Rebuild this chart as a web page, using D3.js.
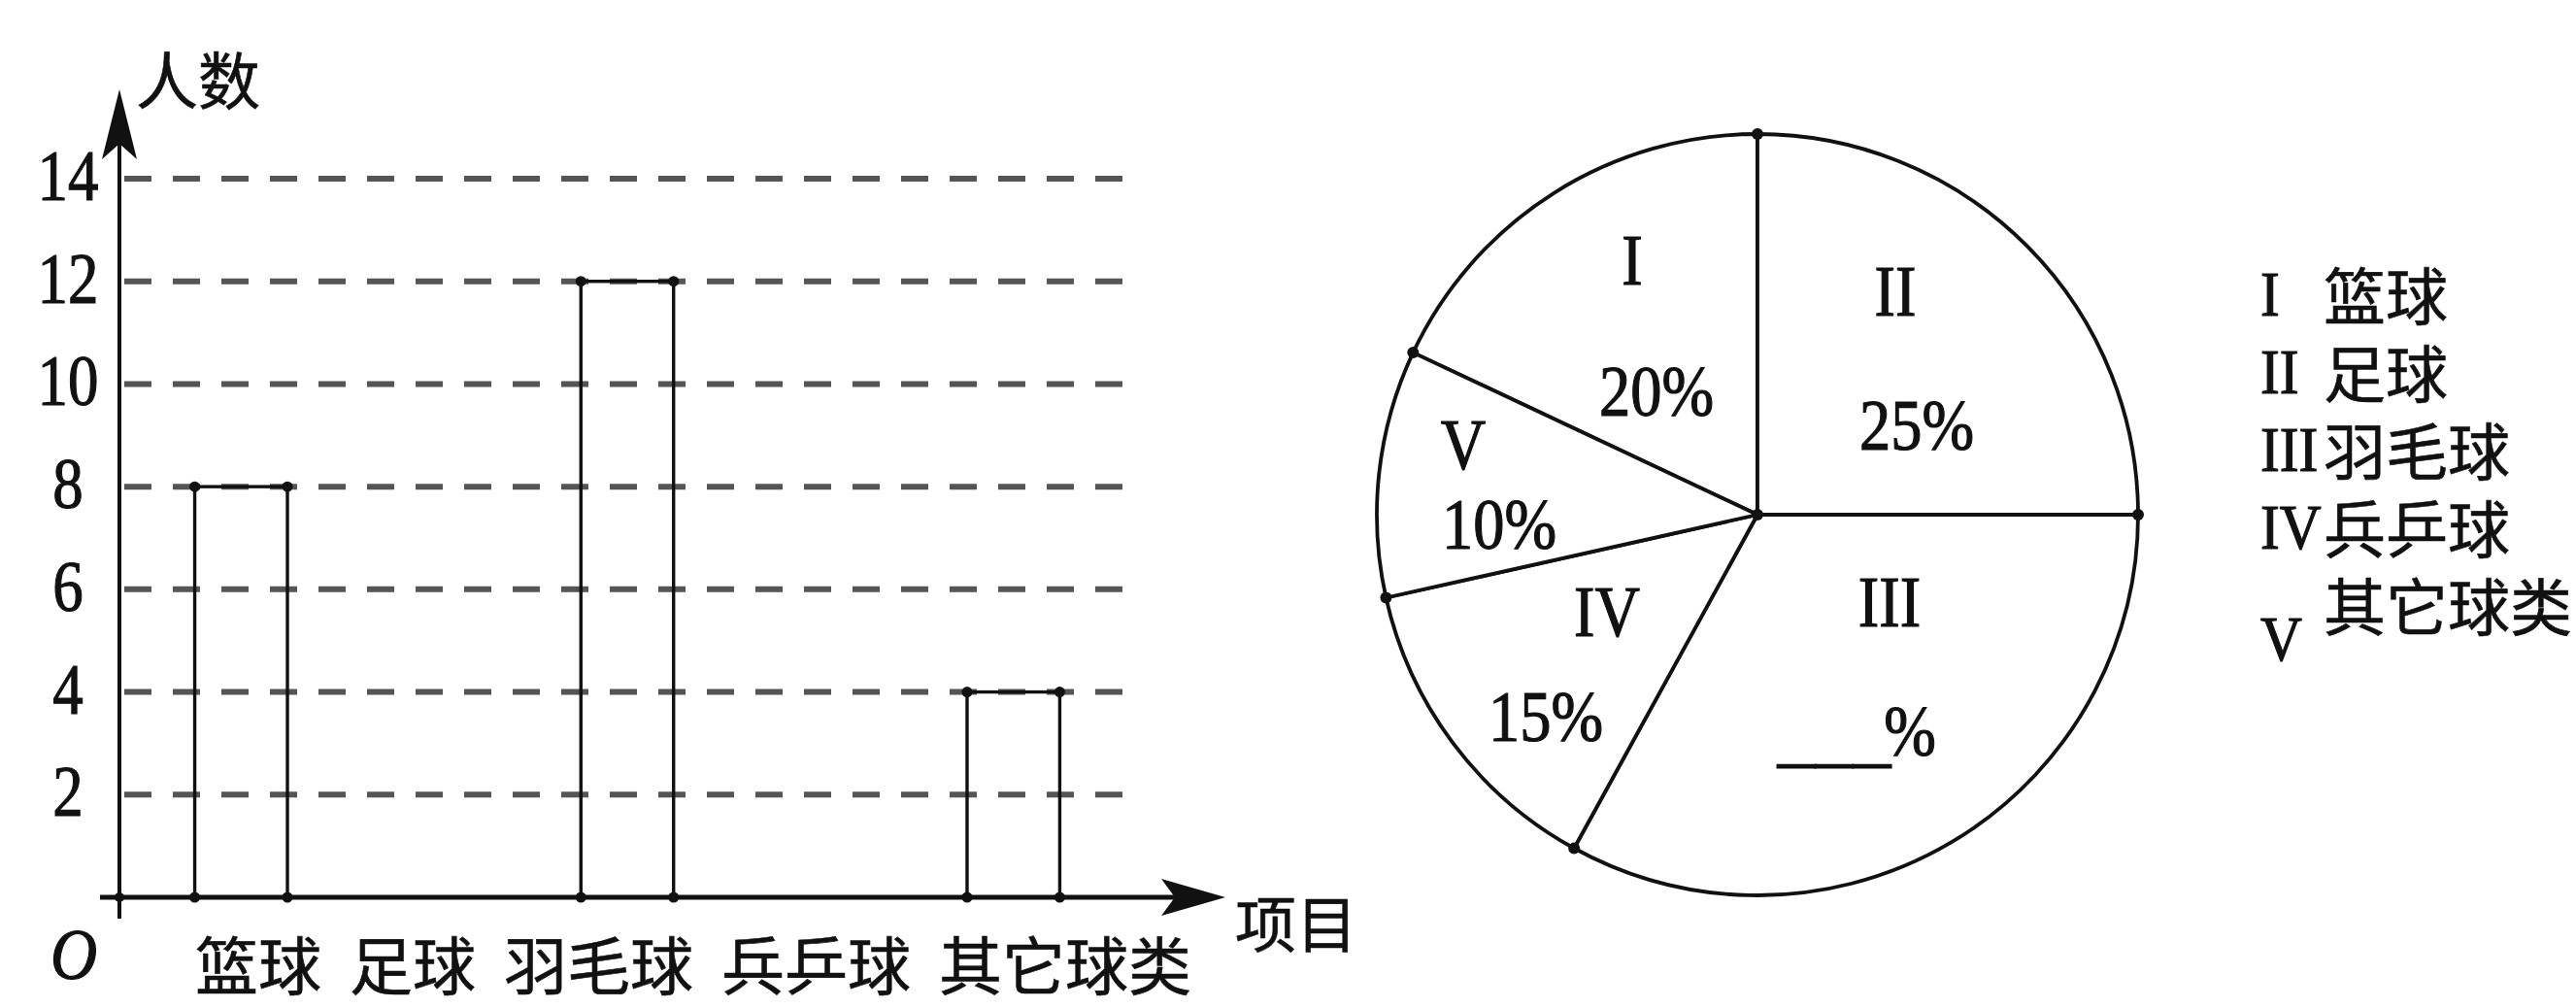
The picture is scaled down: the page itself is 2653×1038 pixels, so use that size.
<!DOCTYPE html>
<html><head><meta charset="utf-8">
<script src="https://cdn.jsdelivr.net/npm/d3@7/dist/d3.min.js"></script>
<style>html,body{margin:0;padding:0;background:#fff;} svg{display:block;}</style>
</head><body>
<svg id="c" width="2653" height="1038"></svg>
<script>
// ---------- data ----------
const categories   = ["篮球", "足球", "羽毛球", "兵乒球", "其它球类"];
const counts       = [8, null, 12, null, 4];          // 足球 / 兵乒球 bars left blank in the figure
const yTicks       = [2, 4, 6, 8, 10, 12, 14];
const romans       = ["I", "II", "III", "IV", "V"];
const sliceShares  = [18, 25, 33, 13.5, 10.5];         // slice sizes as drawn (I..V)
const sliceLabels  = ["20%", "25%", "%", "15%", "10%"];
const yAxisTitle   = "人数";
const xAxisTitle   = "项目";

// ---------- helpers ----------
const svg = d3.select("#c");
const INK = "#111";
const SERIF = "'Liberation Serif','Times New Roman',serif";
const CJK = "'Noto Sans CJK SC','Noto Sans CJK JP',sans-serif";

function serif(parent, x, y, s, fs, anchor, sx, italic) {
  parent.append("g")
    .attr("transform", `translate(${x},${y}) scale(${sx},1)`)
    .append("text")
    .attr("text-anchor", anchor)
    .attr("font-family", SERIF)
    .attr("font-size", fs)
    .attr("font-style", italic ? "italic" : "normal")
    .attr("fill", INK)
    .attr("stroke", INK).attr("stroke-width", 1.2)
    .text(s);
}
function cjk(parent, x, y, s, fs, anchor) {
  return parent.append("text")
    .attr("x", x).attr("y", y)
    .attr("text-anchor", anchor || "start")
    .attr("font-family", CJK)
    .attr("font-size", fs)
    .attr("fill", INK)
    .attr("stroke", INK).attr("stroke-width", 0.6)
    .text(s);
}

// ---------- bar chart ----------
const y = d3.scaleLinear().domain([0, 14]).range([924, 184]);
const x = d3.scaleBand().domain(categories).range([125, 1167])
  .paddingInner(0.52).paddingOuter(0.38);

const bar = svg.append("g");

// dashed grid
bar.append("g").selectAll("line").data(yTicks).join("line")
  .attr("x1", 128).attr("x2", x.range()[1])
  .attr("y1", d => y(d)).attr("y2", d => y(d))
  .attr("stroke", "#555").attr("stroke-width", 6)
  .attr("stroke-dasharray", "28 22");

// tick labels
yTicks.forEach(t => serif(bar, 70, y(t) + 22, String(t), 74, "middle", 0.85, false));

// axes
const axisX0 = 103, axisXTip = 1262, axisYTip = 92;
bar.append("line").attr("x1", 123).attr("x2", 123).attr("y1", 946).attr("y2", axisYTip + 20)
  .attr("stroke", INK).attr("stroke-width", 4);
bar.append("line").attr("x1", axisX0).attr("x2", axisXTip - 20).attr("y1", y(0)).attr("y2", y(0))
  .attr("stroke", INK).attr("stroke-width", 5);
// arrow heads
bar.append("path")
  .attr("d", `M123,${axisYTip} L141,${axisYTip + 72} L123,${axisYTip + 56} L105,${axisYTip + 72} Z`)
  .attr("fill", INK);
bar.append("path")
  .attr("d", `M${axisXTip},${y(0)} L${axisXTip - 66},${y(0) - 19} L${axisXTip - 52},${y(0)} L${axisXTip - 66},${y(0) + 19} Z`)
  .attr("fill", INK);

// bars
const barData = categories.map((c, i) => ({ c, v: counts[i] })).filter(d => d.v != null);
bar.append("g").selectAll("rect").data(barData).join("rect")
  .attr("x", d => x(d.c)).attr("y", d => y(d.v))
  .attr("width", x.bandwidth()).attr("height", d => y(0) - y(d.v))
  .attr("fill", "none").attr("stroke", INK).attr("stroke-width", 3.4);
const corners = barData.flatMap(d => [
  [x(d.c), y(d.v)], [x(d.c) + x.bandwidth(), y(d.v)],
  [x(d.c), y(0)], [x(d.c) + x.bandwidth(), y(0)]
]);
bar.append("g").selectAll("circle").data(corners).join("circle")
  .attr("cx", d => d[0]).attr("cy", d => d[1]).attr("r", 5.5).attr("fill", INK);
bar.append("circle").attr("cx", 123).attr("cy", y(0)).attr("r", 5).attr("fill", INK);

// axis titles
cjk(bar, 140, 107, yAxisTitle, 64);
cjk(bar, 1272, 975, xAxisTitle, 63);
serif(bar, 76, 1008, "O", 74, "middle", 0.9, true);

// category labels laid out as a spaced line of text
{
  const fs = 65, gap = 29;
  let cx = 201;
  categories.forEach(c => {
    cjk(bar, cx, 1019, c, fs);
    cx += c.length * fs + gap;
  });
}

// ---------- pie chart ----------
const R = 392;
const pieG = svg.append("g").attr("transform", "translate(1810,530)");
const total = d3.sum(sliceShares);
const pie = d3.pie().sort(null).value(d => d)
  .startAngle(-2 * Math.PI * sliceShares[0] / total)
  .endAngle(2 * Math.PI - 2 * Math.PI * sliceShares[0] / total);
const arcs = pie(sliceShares);
const arc = d3.arc().innerRadius(0).outerRadius(R);
pieG.selectAll("path").data(arcs).join("path")
  .attr("d", arc).attr("fill", "#fff")
  .attr("stroke", INK).attr("stroke-width", 3.8).attr("stroke-linejoin", "round");
pieG.selectAll("circle.rim").data(arcs).join("circle").attr("class", "rim")
  .attr("cx", d => R * Math.sin(d.startAngle))
  .attr("cy", d => -R * Math.cos(d.startAngle))
  .attr("r", 6).attr("fill", INK);
pieG.append("circle").attr("r", 6).attr("fill", INK);

// slice annotations (absolute page positions)
const numeralPos = [[1681, 293], [1952, 325], [1946, 645], [1655, 655], [1507, 483]];
const labelPos   = [[1706, 428], [1974, 463], [1967, 778], [1592, 763], [1544, 565]];
romans.forEach((r, i) => serif(svg, numeralPos[i][0], numeralPos[i][1], r, 74, "middle", 0.87, false));
sliceLabels.forEach((s, i) => serif(svg, labelPos[i][0], labelPos[i][1], s, 74, "middle", 0.87, false));
// blank to fill in
serif(svg, 1889, 781, "___", 74, "middle", 1.05, false);

// ---------- legend ----------
const leg = svg.append("g");
romans.forEach((r, i) => {
  const extra = i === romans.length - 1 ? 35 : 0;
  serif(leg, 2328, 325 + i * 80 + extra, r, 66, "start", 0.9, false);
});
// legend names as one multi-line text block (tight line spacing as in the figure)
{
  const t = cjk(leg, 2393, 329, "", 64);
  t.selectAll("tspan").data(categories).join("tspan")
    .attr("x", 2393)
    .attr("dy", (d, i) => i === 0 ? 0 : 80)
    .text(d => d);
}
</script>
</body></html>
